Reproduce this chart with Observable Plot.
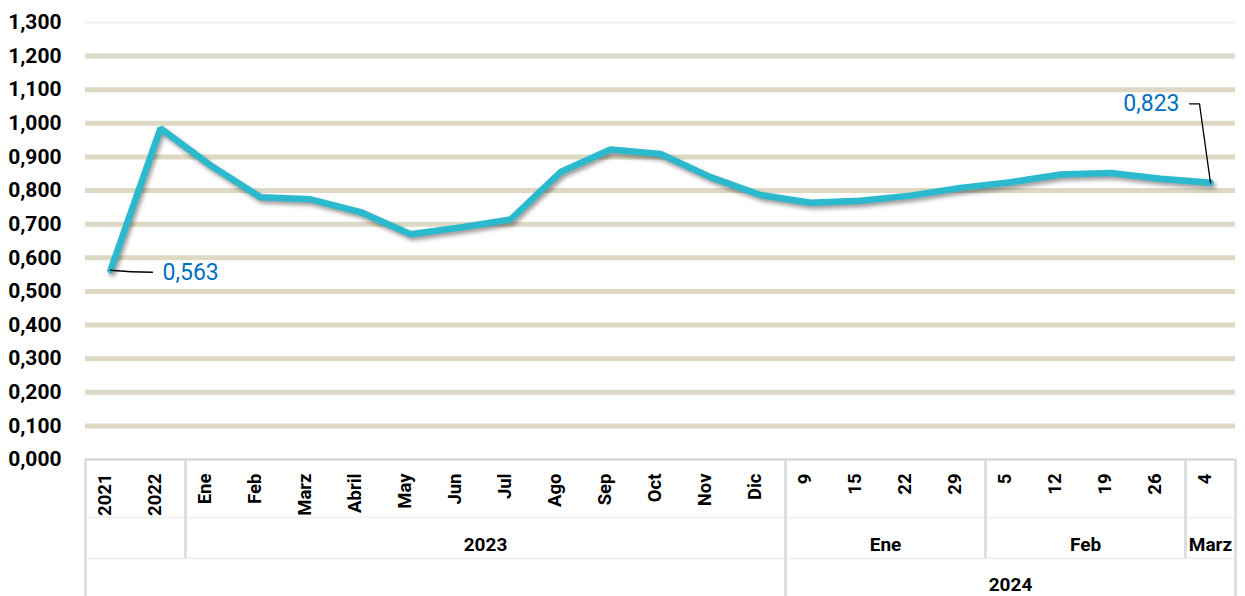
<!DOCTYPE html>
<html><head><meta charset="utf-8">
<script src="https://cdn.jsdelivr.net/npm/d3@7"></script>
<script src="https://cdn.jsdelivr.net/npm/@observablehq/plot@0.6"></script>
<style>
html,body{margin:0;padding:0;background:#fff;}
#chart{width:1245px;height:596px;}
</style></head><body><div id="chart"></div>
<script>
// ---- data ----
const categories = ["2021","2022","Ene","Feb","Marz","Abril","May","Jun","Jul","Ago","Sep","Oct","Nov","Dic","9","15","22","29","5","12","19","26","4"];
const values = [0.563,0.985,0.875,0.780,0.774,0.736,0.670,0.690,0.714,0.855,0.922,0.909,0.840,0.787,0.764,0.770,0.785,0.808,0.825,0.848,0.852,0.835,0.823];
const yTicks = [0,0.1,0.2,0.3,0.4,0.5,0.6,0.7,0.8,0.9,1.0,1.1,1.2,1.3];
const tier2Groups = [
  {label:"2023", start:2, end:13},
  {label:"Ene", start:14, end:17},
  {label:"Feb", start:18, end:21},
  {label:"Marz", start:22, end:22}
];
const tier3Groups = [{label:"2024", start:14, end:22}];

// ---- derived ----
const table = categories.map((c,i) => ({i, label:c, value:values[i]}));
const firstPt = table[0], lastPt = table[table.length-1];
const fmt = v => d3.format(".3f")(v).replace(".", ",");
const longDividers = [-0.5, ...tier3Groups.flatMap(g => [g.start-0.5, g.end+0.5])];
const shortDividers = tier2Groups.map(g => g.start-0.5).filter(x => !longDividers.includes(x));

const W = 1245, H = 596, MT = 22, MB = 137, ML = 85, MR = 10;
const frameH = H - MT - MB;

const leaderFirst = {draw(ctx){ ctx.moveTo(0,0); ctx.quadraticCurveTo(20,2,42,2); }};
const leaderLast = {draw(ctx){ ctx.moveTo(0,0); ctx.lineTo(-11,-79); ctx.lineTo(-21,-79); }};

const chart = Plot.plot({
  width: W, height: H,
  marginTop: MT, marginBottom: MB, marginLeft: ML, marginRight: MR,
  style: {fontFamily: "Roboto, sans-serif", color: "#000", background: "#fff"},
  x: {type: "linear", domain: [-0.5, categories.length - 0.5], axis: null},
  y: {domain: [0, 1.3], axis: null},
  marks: [
    Plot.ruleY(yTicks.filter(t => t > 0 && t < 1.3), {stroke: "#DDD9C4", strokeWidth: 5}),
    Plot.ruleY([1.3], {stroke: "#f0f0f0", strokeWidth: 2}),
    Plot.ruleY([0], {stroke: "#eeeeee", strokeWidth: 1.5, dy: 58}),
    Plot.ruleY([0], {stroke: "#eeeeee", strokeWidth: 1.5, dy: 99}),
    Plot.ruleY([0], {stroke: "#D9D9D9", strokeWidth: 2.5}),
    Plot.ruleX(longDividers, {stroke: "#D9D9D9", strokeWidth: 2.5, insetTop: frameH, insetBottom: -MB}),
    Plot.ruleX(shortDividers, {stroke: "#D9D9D9", strokeWidth: 2.5, insetTop: frameH, insetBottom: -99}),
    Plot.axisY(yTicks, {label: null, tickSize: 0, tickPadding: 24, tickFormat: fmt, fontSize: 21, fontWeight: "bold"}),
    Plot.text(table, {x: "i", text: "label", frameAnchor: "bottom", rotate: -90, textAnchor: "end", dy: 14, fontSize: 18.5, fontWeight: "bold", fill: "#000"}),
    Plot.text(tier2Groups, {x: d => (d.start + d.end) / 2, text: "label", frameAnchor: "bottom", dy: 91, fontSize: 19, fontWeight: "bold", fill: "#000"}),
    Plot.text(tier3Groups, {x: d => (d.start + d.end) / 2, text: "label", frameAnchor: "bottom", dy: 131, fontSize: 19, fontWeight: "bold", fill: "#000"}),
    Plot.line(table, {x: "i", y: "value", stroke: "#2BB9CE", strokeWidth: 6.5, strokeLinejoin: "miter", strokeLinecap: "round"}),
    Plot.vector([firstPt], {x: "i", y: "value", anchor: "start", shape: leaderFirst, stroke: "#000", strokeWidth: 1.3}),
    Plot.vector([lastPt], {x: "i", y: "value", anchor: "start", shape: leaderLast, stroke: "#000", strokeWidth: 1.3}),
    Plot.text([firstPt], {x: "i", y: "value", text: d => fmt(d.value), textAnchor: "start", dx: 52, dy: 2, fontSize: 23, fill: "#0070C0"}),
    Plot.text([lastPt], {x: "i", y: "value", text: d => fmt(d.value), textAnchor: "end", dx: -31, dy: -79, fontSize: 23, fill: "#0070C0"})
  ]
});
const lineG = chart.querySelector('g[aria-label="line"]');
if (lineG) lineG.style.filter = "drop-shadow(2px 3px 2px rgba(0,0,0,0.4))";
document.getElementById("chart").appendChild(chart);
</script>
</body></html>
